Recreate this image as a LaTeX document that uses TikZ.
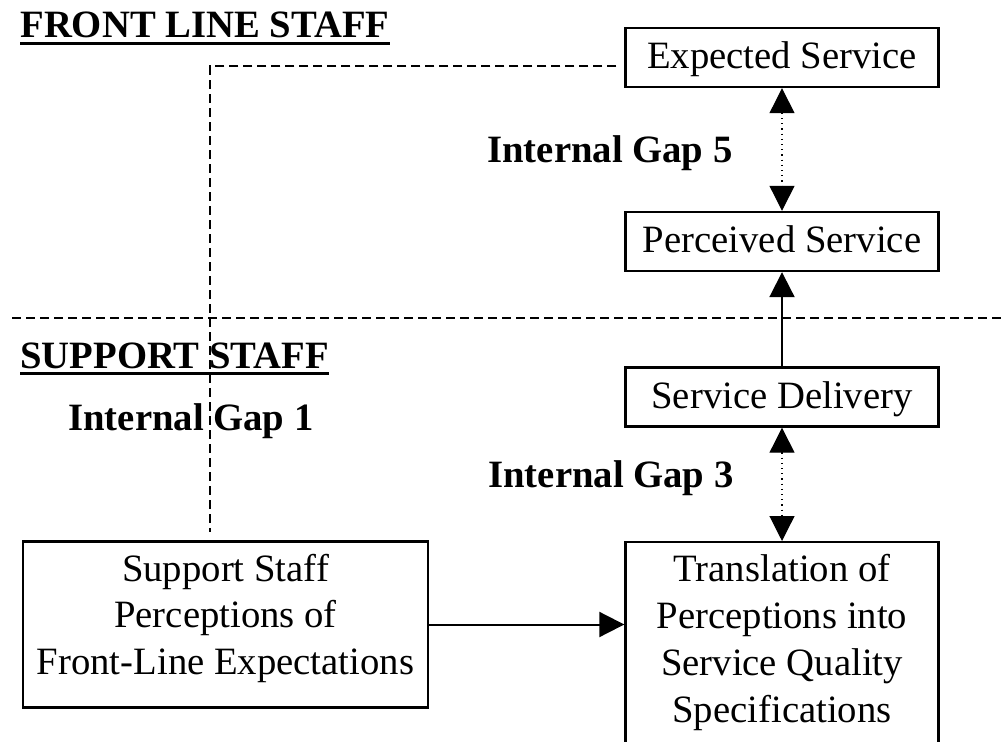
\documentclass[tikz,border=0pt]{standalone}
\usepackage{fontspec}
\setmainfont{Liberation Serif}
\usetikzlibrary{arrows.meta}
\newcommand{\diagfont}{\fontsize{19.35}{23.35}\selectfont}
\newcommand{\headline}[1]{\vtop{\hbox{\textbf{#1}}\kern2pt\hrule height 1.2pt}}
\tikzstyle{box} = [rectangle, draw, line width=1.2pt, minimum width=156.5pt, minimum height=29.5pt, inner sep=0pt, text depth=0.217em, align=center, font=\diagfont]
\tikzstyle{tallbox} = [box, inner ysep=6.25pt, text depth=10.2pt]
\tikzstyle{heading} = [anchor=base west, inner sep=0pt, font=\diagfont]
\tikzstyle{gaplabel} = [anchor=base west, inner sep=0pt, font=\diagfont\bfseries]
\tikzstyle{arrow} = [line width=1pt, -{Triangle[length=12.5pt, width=12.5pt]}]
\tikzstyle{gaparrow} = [line width=0.6pt, dotted, {Triangle[length=12.5pt, width=12.5pt]}-{Triangle[length=12.5pt, width=12.5pt]}]
\tikzstyle{staffline} = [line width=1pt, dash pattern=on 4.5pt off 2.5pt]

\begin{document}
\begin{tikzpicture}[x=0.5pt, y=-0.5pt]
    \useasboundingbox (0,0) rectangle (1004,742);
    \node [heading] at (20,38) (front) {\headline{FRONT LINE STAFF}};
    \node [heading] at (20,368) (support) {\headline{SUPPORT STAFF}};
    \node [box] at (782,57.5) (expected) {Expected Service};
    \node [box] at (782,241.5) (perceived) {Perceived Service};
    \node [box] at (782,397) (delivery) {Service Delivery};
    \node [tallbox, anchor=north] at (782,541) (translation) {Translation of\\Perceptions into\\Service Quality\\Specifications};
    \node [tallbox, minimum width=202.5pt] at (225.5,624.5) (perceptions) {Support Staff\\Perceptions of\\Front-Line Expectations};
    \node [gaplabel] at (487,163) (gap5) {Internal Gap 5};
    \node [gaplabel] at (488,487) (gap3) {Internal Gap 3};
    \node [gaplabel] at (68,430) (gap1) {Internal Gap 1};
    \coordinate (divleft) at (12,318);
    \coordinate (divright) at (1004,318);
    \coordinate (gap1end) at (210,532);
    \draw [staffline] (divleft) -- (divright);
    \draw [staffline, shorten <=4pt] ([yshift=-4.5pt]expected.west) -| (gap1end);
    \draw [gaparrow] (expected) -- (perceived);
    \draw [arrow] (delivery) -- (perceived);
    \draw [gaparrow] (delivery) -- (translation);
    \draw [arrow] (perceptions) -- (perceptions -| translation.west);
\end{tikzpicture}
\end{document}
